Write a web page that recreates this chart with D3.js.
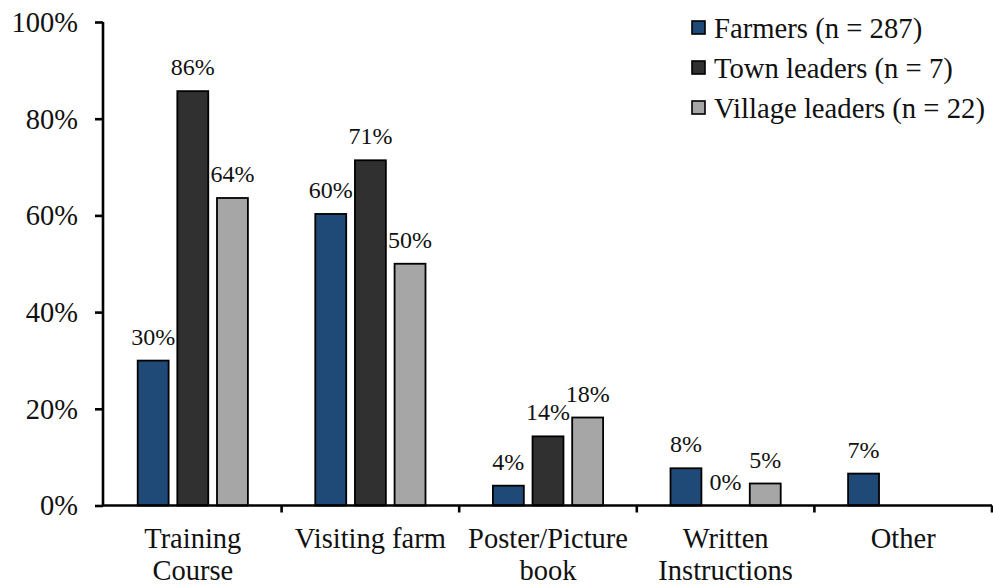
<!DOCTYPE html>
<html>
<head>
<meta charset="utf-8">
<script src="https://cdn.jsdelivr.net/npm/d3@7"></script>
<style>
  html, body { margin: 0; padding: 0; background: #fff; }
  svg, svg text { font-family: "Liberation Serif", "Times New Roman", Times, Tinos, "DejaVu Serif", serif !important; }
</style>
</head>
<body>
<svg id="chart" width="993" height="587"></svg>
<script>
const categories = ["Training Course", "Visiting farm", "Poster/Picture book", "Written Instructions", "Other"];
const categoryLines = [["Training", "Course"], ["Visiting farm"], ["Poster/Picture", "book"], ["Written", "Instructions"], ["Other"]];
const seriesNames = ["Farmers (n = 287)", "Town leaders (n = 7)", "Village leaders (n = 22)"];
const farmers = [29.97, 60.3, 4.1, 7.7, 6.6];
const townLeaders = [85.7, 71.4, 14.3, 0, null];
const villageLeaders = [63.6, 50.0, 18.2, 4.55, null];
const yTicks = [0, 20, 40, 60, 80, 100];
const colors = ["#1f4a78", "#303030", "#a6a6a6"];

const seriesValues = [farmers, townLeaders, villageLeaders];
const svg = d3.select("#chart");
const FONT = "'Liberation Serif', 'Times New Roman', Times, Tinos, 'DejaVu Serif', serif";

const y = d3.scaleLinear().domain([0, 100]).range([505.5, 22]);
const x0 = d3.scaleBand().domain(categories).range([104, 992]);
const x1 = d3.scaleBand().domain(seriesNames).range([0, x0.bandwidth()])
  .paddingInner(0.22).paddingOuter(0.85);
const color = d3.scaleOrdinal().domain(seriesNames).range(colors);

// Bars
const data = [];
categories.forEach((c, ci) => {
  seriesNames.forEach((s, si) => {
    const v = seriesValues[si][ci];
    if (v !== null && v !== undefined) data.push({ c, s, v });
  });
});

svg.append("g").selectAll("rect").data(data.filter(d => d.v > 0)).join("rect")
  .attr("x", d => x0(d.c) + x1(d.s))
  .attr("y", d => y(d.v))
  .attr("width", x1.bandwidth())
  .attr("height", d => y(0) - y(d.v))
  .attr("fill", d => color(d.s))
  .attr("stroke", "#000")
  .attr("stroke-width", 1.8);

// Value labels
svg.append("g").selectAll("text").data(data).join("text")
  .attr("x", d => x0(d.c) + x1(d.s) + x1.bandwidth() / 2)
  .attr("y", d => y(d.v) - 16)
  .attr("text-anchor", "middle")
  .attr("font-family", FONT)
  .attr("font-size", 24)
  .attr("fill", "#111")
  .text(d => Math.round(d.v) + "%");

// Y axis
const yAxis = d3.axisLeft(y).tickValues(yTicks).tickFormat(d => d + "%").tickSize(8).tickPadding(17);
const gy = svg.append("g").attr("transform", "translate(103,0)").call(yAxis).attr("font-family", FONT);
gy.select(".domain").attr("stroke", "#000").attr("stroke-width", 2.6).attr("d", `M0,${y(100)}V${y(0)}`);
gy.selectAll(".tick line").attr("stroke", "#000").attr("stroke-width", 2.6);
gy.selectAll(".tick text")
  .attr("font-family", FONT)
  .attr("font-size", 28.5).attr("fill", "#111").attr("dy", "0.33em");

// X axis line with boundary ticks
const xAxis = d3.axisBottom(x0).tickSize(0).tickFormat("");
const gx = svg.append("g").attr("transform", `translate(0,${y(0)})`).call(xAxis);
gx.select(".domain").attr("stroke", "#000").attr("stroke-width", 2.6).attr("d", `M103,0H${x0.range()[1]}`);
gx.selectAll(".tick").remove();
const boundaries = categories.map(c => x0(c) + x0.bandwidth());
gx.selectAll("line.bt").data(boundaries).join("line").attr("class", "bt")
  .attr("x1", d => d).attr("x2", d => d).attr("y1", 0).attr("y2", 7)
  .attr("stroke", "#000").attr("stroke-width", 2.6);

// Category labels
const catG = svg.append("g");
categories.forEach((c, i) => {
  const t = catG.append("text")
    .attr("x", x0(c) + x0.bandwidth() / 2)
    .attr("y", 548)
    .attr("text-anchor", "middle")
    .attr("font-family", FONT)
    .attr("font-size", 28.5)
    .attr("fill", "#111");
  categoryLines[i].forEach((ln, li) => {
    t.append("tspan").attr("x", x0(c) + x0.bandwidth() / 2).attr("dy", li === 0 ? 0 : 32).text(ln);
  });
});

// Legend
const legend = svg.append("g");
const legendY = d3.scalePoint().domain(seriesNames).range([27.5, 107.5]);
seriesNames.forEach(s => {
  legend.append("rect")
    .attr("x", 692).attr("y", legendY(s) - 6.5)
    .attr("width", 13).attr("height", 13)
    .attr("fill", color(s)).attr("stroke", "#000").attr("stroke-width", 1.6);
  legend.append("text")
    .attr("x", 714).attr("y", legendY(s) + 10.5)
    .attr("font-family", FONT)
    .attr("font-size", 28.7).attr("fill", "#111")
    .text(s);
});
</script>
</body>
</html>
